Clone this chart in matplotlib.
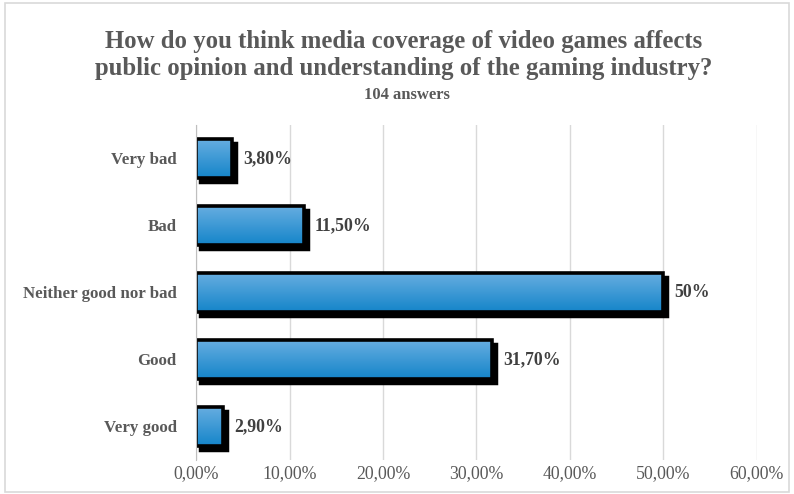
import numpy as np
import matplotlib.pyplot as plt
import matplotlib.transforms as mtransforms
from matplotlib.patches import Rectangle

categories = ["Very bad", "Bad", "Neither good nor bad", "Good", "Very good"]
values = [3.8, 11.5, 50.0, 31.7, 2.9]
value_labels = ["3,80%", "11,50%", "50%", "31,70%", "2,90%"]
tick_values = [0, 10, 20, 30, 40, 50, 60]
tick_labels = ["0,00%", "10,00%", "20,00%", "30,00%", "40,00%", "50,00%", "60,00%"]

plt.rcParams["font.family"] = ["Liberation Serif", "DejaVu Serif"]

fig = plt.figure(figsize=(7.94, 4.94), dpi=100)
ax = fig.add_axes([0.247, 0.069, 0.706, 0.678])

# cadre gris clair autour de la figure
fig.patches.append(Rectangle((0.006, 0.004), 0.988, 0.99, transform=fig.transFigure,
                             fill=False, edgecolor="#D9D9D9", linewidth=1.2))

y = np.arange(len(categories))
h = 0.58

# dégradé vertical pour les barres
grad = np.linspace(0, 1, 64).reshape(-1, 1)
c_top = np.array([0.40, 0.68, 0.88])
c_bot = np.array([0.08, 0.52, 0.79])
img = c_top[None, None, :] * (1 - grad[..., None]) + c_bot[None, None, :] * grad[..., None]

shadow_tr = mtransforms.offset_copy(ax.transData, fig=fig, x=3, y=-3, units="points")

for yi, v, lab in zip(y, values, value_labels):
    ax.add_patch(Rectangle((0, yi - h / 2), v, h, facecolor="black", edgecolor="black",
                           linewidth=2.5, transform=shadow_tr, zorder=2))
    bar = Rectangle((0, yi - h / 2), v, h, facecolor="none", edgecolor="black",
                    linewidth=2.6, zorder=4)
    ax.add_patch(bar)
    im = ax.imshow(img, extent=[0, v, yi + h / 2, yi - h / 2], aspect="auto", zorder=3)
    im.set_clip_path(bar)
    ax.text(v + 1.2, yi, lab, va="center", ha="left", fontsize=12.8,
            fontweight="bold", color="#404040", zorder=5)

ax.set_xlim(0, 60)
ax.set_ylim(len(categories) - 0.5, -0.5)
ax.set_xticks(tick_values)
ax.set_xticklabels(tick_labels, fontsize=12.8, color="#595959")
ax.set_yticks(y)
ax.set_yticklabels(categories, fontsize=12.2, fontweight="bold", color="#595959")
ax.tick_params(axis="both", length=0)
ax.tick_params(axis="x", pad=4)
ax.tick_params(axis="y", pad=14)
ax.grid(axis="x", color="#D9D9D9", linewidth=1)
ax.set_axisbelow(True)
for s in ["top", "right", "bottom"]:
    ax.spines[s].set_visible(False)
ax.spines["left"].set_color("#BFBFBF")
ax.spines["left"].set_zorder(6)

fig.text(0.508, 0.915, "How do you think media coverage of video games affects",
         ha="center", va="center", fontsize=17.8, fontweight="bold", color="#595959")
fig.text(0.508, 0.862, "public opinion and understanding of the gaming industry?",
         ha="center", va="center", fontsize=17.8, fontweight="bold", color="#595959")
fig.text(0.513, 0.808, "104 answers", ha="center", va="center", fontsize=12,
         fontweight="bold", color="#595959")

fig.savefig("out.png", dpi=100)
